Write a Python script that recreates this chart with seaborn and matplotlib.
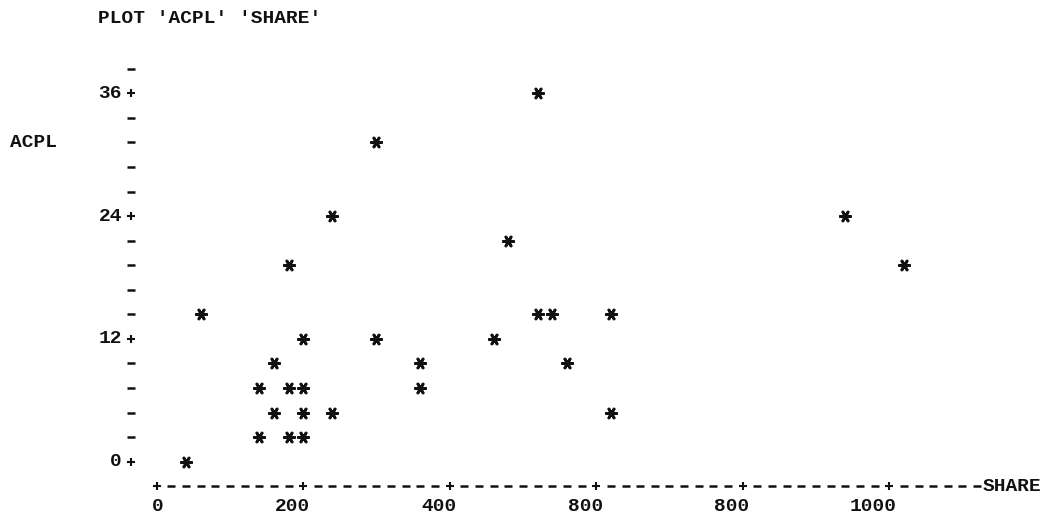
import matplotlib
matplotlib.use("Agg")
import matplotlib.pyplot as plt
import seaborn as sns
import numpy as np
import pandas as pd

# values (each column is 20 SHARE, each line 2.4 ACPL)
share = [40, 60, 140, 140, 160, 160, 180, 180, 180, 200, 200, 200, 200,
         240, 240, 300, 300, 360, 360, 460, 480, 520, 520, 540, 560,
         620, 620, 940, 1020]
acpl = [0, 14.4, 2.4, 7.2, 4.8, 9.6, 2.4, 7.2, 19.2, 2.4, 4.8, 7.2, 12,
        4.8, 24, 12, 31.2, 7.2, 9.6, 12, 21.6, 14.4, 36, 14.4, 9.6,
        4.8, 14.4, 24, 19.2]

x_ticks = [0, 200, 400, 600, 800, 1000]
x_labels = ['0', '200', '400', '800', '800', '1000']
y_ticks = [0, 12, 24, 36]
y_labels = ['0', '12', '24', '36']

df = pd.DataFrame({'SHARE': share, 'ACPL': acpl})

sns.set_style('white')
plt.rcParams['font.family'] = ['Liberation Mono', 'DejaVu Sans Mono']
plt.rcParams['font.weight'] = 'bold'

fig = plt.figure(figsize=(10.64, 5.25), dpi=100)
ax = fig.add_axes([0, 0, 1, 1])
ax.set_xlim(-213.9, 1238.6)
ax.set_ylim(-6.19, 45.12)
ax.axis('off')

fs = 14
ink = '#111111'

# points
sns.scatterplot(data=df, x='SHARE', y='ACPL', ax=ax, marker=(6, 2, 90),
                s=55, color=ink, edgecolor=ink, linewidth=2.0, legend=False)

# vertical axis built from '+' and '-' characters
ycol = -35
minor_y = [v for v in np.arange(2.4, 38.5, 2.4) if abs(v / 12 - round(v / 12)) > 1e-6]
ax.plot([ycol] * len(minor_y), minor_y, ls='none', marker='_', ms=6, mew=1.8, color=ink)
ax.plot([ycol] * len(y_ticks), y_ticks, ls='none', marker='+', ms=6, mew=1.5, color=ink)
for v, lab in zip(y_ticks, y_labels):
    ax.text(-47.4, v, lab, ha='right', va='center', fontsize=fs, color=ink)

# horizontal axis
xrow = -2.4
minor_x = [v for v in range(20, 1121, 20) if v % 200 != 0 or v > 1000]
ax.plot(minor_x, [xrow] * len(minor_x), ls='none', marker='_', ms=6, mew=1.8, color=ink)
ax.plot(x_ticks, [xrow] * len(x_ticks), ls='none', marker='+', ms=6, mew=1.5, color=ink)
for v, lab in zip(x_ticks, x_labels):
    ax.text(v + 9.6, -4.43, lab, ha='right', va='center', fontsize=fs, color=ink)

ax.text(1128, xrow, 'SHARE', ha='left', va='center', fontsize=fs, color=ink)
ax.text(-200, 31.2, 'ACPL', ha='left', va='center', fontsize=fs, color=ink)
ax.text(-80, 43.36, "PLOT 'ACPL' 'SHARE'", ha='left', va='center', fontsize=fs, color=ink)

fig.savefig('out.png', dpi=100, facecolor='white')
plt.close(fig)
